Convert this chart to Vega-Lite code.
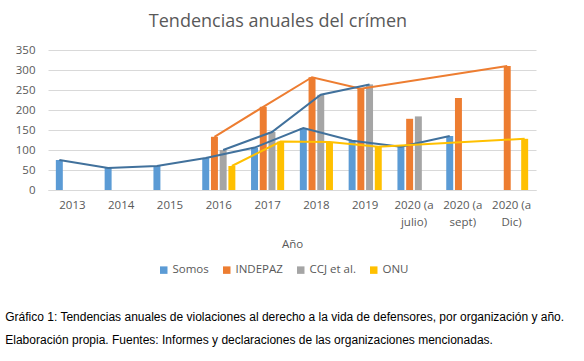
{
  "$schema": "https://vega.github.io/schema/vega-lite/v6.json",
  "background": "white",
  "padding": {"left": 5, "right": 5, "top": 13, "bottom": 5},
  "config": {"view": {"stroke": null}, "font": "Open Sans"},
  "title": {
    "text": ["Gráfico 1: Tendencias anuales de violaciones al derecho a la vida de defensores, por organización y año.", "Elaboración propia. Fuentes: Informes y declaraciones de las organizaciones mencionadas."],
    "orient": "bottom", "anchor": "start", "frame": "bounds",
    "font": "Liberation Sans", "fontSize": 12, "fontWeight": "normal", "color": "#000000",
    "lineHeight": 23, "offset": 36, "dx": -10
  },
  "datasets": {
    "d": [
      {"anio": "2013", "org": "Somos", "valor": 75, "linea": true},
      {"anio": "2014", "org": "Somos", "valor": 55, "linea": true},
      {"anio": "2015", "org": "Somos", "valor": 60, "linea": true},
      {"anio": "2016", "org": "Somos", "valor": 80, "linea": true},
      {"anio": "2016", "org": "INDEPAZ", "valor": 133, "linea": true},
      {"anio": "2016", "org": "CCJ et al.", "valor": 100, "linea": true},
      {"anio": "2016", "org": "ONU", "valor": 60, "linea": true},
      {"anio": "2017", "org": "Somos", "valor": 106, "linea": true},
      {"anio": "2017", "org": "INDEPAZ", "valor": 208, "linea": true},
      {"anio": "2017", "org": "CCJ et al.", "valor": 145, "linea": true},
      {"anio": "2017", "org": "ONU", "valor": 121, "linea": true},
      {"anio": "2018", "org": "Somos", "valor": 155, "linea": true},
      {"anio": "2018", "org": "INDEPAZ", "valor": 282, "linea": true},
      {"anio": "2018", "org": "CCJ et al.", "valor": 238, "linea": true},
      {"anio": "2018", "org": "ONU", "valor": 120, "linea": true},
      {"anio": "2019", "org": "Somos", "valor": 123, "linea": true},
      {"anio": "2019", "org": "INDEPAZ", "valor": 253, "linea": true},
      {"anio": "2019", "org": "CCJ et al.", "valor": 264, "linea": true},
      {"anio": "2019", "org": "ONU", "valor": 108, "linea": true},
      {"anio": "2020 (a julio)", "org": "Somos", "valor": 108, "linea": true},
      {"anio": "2020 (a julio)", "org": "INDEPAZ", "valor": 178, "linea": false},
      {"anio": "2020 (a julio)", "org": "CCJ et al.", "valor": 184, "linea": false},
      {"anio": "2020 (a sept)", "org": "Somos", "valor": 135, "linea": true},
      {"anio": "2020 (a sept)", "org": "INDEPAZ", "valor": 230, "linea": false},
      {"anio": "2020 (a Dic)", "org": "INDEPAZ", "valor": 310, "linea": true},
      {"anio": "2020 (a Dic)", "org": "ONU", "valor": 128, "linea": true}
    ]
  },
  "vconcat": [
    {
      "width": 488,
      "height": 140,
      "title": {"text": "Tendencias anuales del crímen", "font": "Open Sans", "fontSize": 18, "fontWeight": "normal", "color": "#595959", "offset": 13, "dx": -14},
      "data": {"name": "d"},
      "encoding": {
        "x": {
          "field": "anio", "type": "nominal",
          "sort": ["2013", "2014", "2015", "2016", "2017", "2018", "2019", "2020 (a julio)", "2020 (a sept)", "2020 (a Dic)"],
          "scale": {"paddingInner": 0, "paddingOuter": 0},
          "axis": {
            "title": "Año", "titleFont": "Open Sans", "titleFontSize": 11.5, "titleFontWeight": "normal", "titleColor": "#595959", "titlePadding": 11,
            "labelAngle": 0, "labelFont": "Open Sans", "labelFontSize": 11.5, "labelColor": "#595959", "labelPadding": 9, "labelLineHeight": 17,
            "labelExpr": "length(datum.label) > 4 ? [substring(datum.label, 0, 7), substring(datum.label, 8)] : datum.label",
            "ticks": false, "domainColor": "#D9D9D9", "domainWidth": 1
          }
        },
        "xOffset": {
          "field": "org", "type": "nominal",
          "sort": ["Somos", "INDEPAZ", "CCJ et al.", "ONU"],
          "scale": {"paddingInner": 0.2, "paddingOuter": 0.9}
        },
        "y": {
          "field": "valor", "type": "quantitative",
          "scale": {"domain": [0, 350], "nice": false},
          "axis": {
            "title": null, "values": [0, 50, 100, 150, 200, 250, 300, 350], "labelOverlap": false,
            "labelFont": "Open Sans", "labelFontSize": 11.5, "labelColor": "#595959", "labelPadding": 13,
            "ticks": false, "domain": false, "gridColor": "#D9D9D9", "gridWidth": 1
          }
        }
      },
      "layer": [
        {
          "mark": {"type": "bar"},
          "encoding": {
            "color": {
              "field": "org", "type": "nominal",
              "sort": ["Somos", "INDEPAZ", "CCJ et al.", "ONU"],
              "scale": {"domain": ["Somos", "INDEPAZ", "CCJ et al.", "ONU"], "range": ["#5B9BD5", "#ED7D31", "#A5A5A5", "#FFC000"]},
              "legend": {
                "title": null, "orient": "none", "direction": "horizontal", "legendX": 110, "legendY": 214,
                "symbolType": "square", "symbolSize": 56, "symbolStrokeWidth": 0,
                "labelFont": "Open Sans", "labelFontSize": 11.5, "labelColor": "#595959",
                "columnPadding": 12, "labelOffset": 3
              }
            }
          }
        },
        {
          "transform": [{"filter": "datum.linea"}],
          "mark": {"type": "line", "strokeWidth": 2},
          "encoding": {
            "stroke": {
              "field": "org", "type": "nominal",
              "scale": {"domain": ["Somos", "INDEPAZ", "CCJ et al.", "ONU"], "range": ["#41719C", "#ED7D31", "#41719C", "#FFC000"]},
              "legend": null
            }
          }
        }
      ]
    }
  ]
}
